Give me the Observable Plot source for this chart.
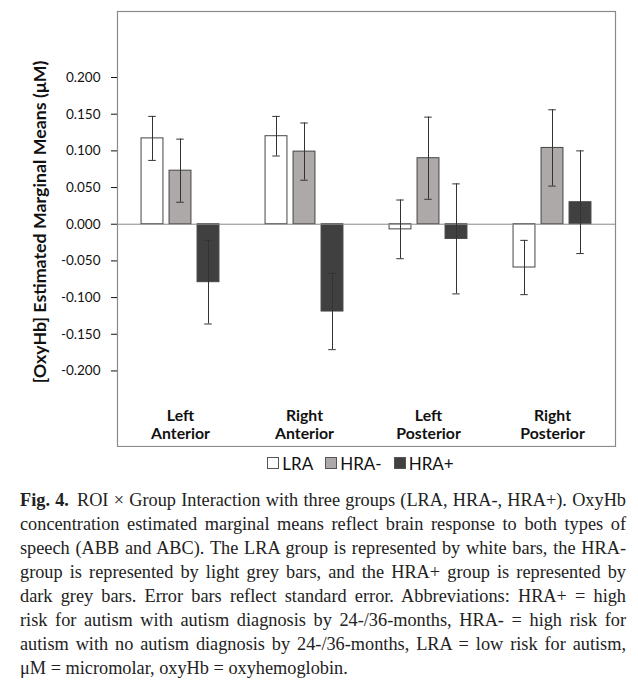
<!DOCTYPE html>
<html>
<head>
<meta charset="utf-8">
<script src="https://cdn.jsdelivr.net/npm/d3@7"></script>
<script src="https://cdn.jsdelivr.net/npm/@observablehq/plot@0.6"></script>
<style>
  html, body { margin: 0; padding: 0; background: #fff; }
  #wrap { width: 638px; position: relative; }
  #legend { font-family: Lato, "Open Sans", sans-serif; font-size: 17px; color: #111;
            display: flex; justify-content: center; gap: 12px; margin-top: 5px; height: 22px;
            padding-left: 83px; box-sizing: border-box; }
  #legend span.item { display: inline-flex; align-items: center; gap: 3px; }
  #legend span.sw { display: inline-block; width: 10px; height: 10px; border: 1px solid #555; }
  #caption { font-family: "Liberation Serif", "DejaVu Serif", serif; font-size: 18.3px; line-height: 24px;
             color: #222; width: 606px; margin: 14px 0 0 20px; }
  #caption div { text-align: justify; text-align-last: justify; white-space: nowrap; }
  #caption div.last { text-align-last: left; }
  #caption b { margin-right: 8px; }
</style>
</head>
<body>
<div id="wrap">
  <div id="chart"></div>
  <div id="legend"></div>
  <div id="caption">
    <div><b>Fig. 4.</b>ROI × Group Interaction with three groups (LRA, HRA-, HRA+). OxyHb</div>
    <div>concentration estimated marginal means reflect brain response to both types of</div>
    <div>speech (ABB and ABC). The LRA group is represented by white bars, the HRA-</div>
    <div>group is represented by light grey bars, and the HRA+ group is represented by</div>
    <div>dark grey bars. Error bars reflect standard error. Abbreviations: HRA+ = high</div>
    <div>risk for autism with autism diagnosis by 24-/36-months, HRA- = high risk for</div>
    <div>autism with no autism diagnosis by 24-/36-months, LRA = low risk for autism,</div>
    <div class="last">μM = micromolar, oxyHb = oxyhemoglobin.</div>
  </div>
</div>
<script>
const regions = ["Left\nAnterior", "Right\nAnterior", "Left\nPosterior", "Right\nPosterior"];
const groups = ["LRA", "HRA-", "HRA+"];
const groupColors = ["#ffffff", "#aea9a9", "#404040"];
// values per group, in region order
const lraMeans  = [0.117, 0.120, -0.007, -0.059];
const hraMMeans = [0.073, 0.099, 0.090, 0.104];
const hraPMeans = [-0.079, -0.119, -0.020, 0.030];
const lraSE  = [0.030, 0.027, 0.040, 0.037];
const hraMSE = [0.043, 0.039, 0.056, 0.052];
const hraPSE = [0.057, 0.052, 0.075, 0.070];
const yTicks = [-0.2, -0.15, -0.1, -0.05, 0, 0.05, 0.1, 0.15, 0.2];

const meansByGroup = [lraMeans, hraMMeans, hraPMeans];
const seByGroup = [lraSE, hraMSE, hraPSE];
const rows = [];
groups.forEach((g, gi) => regions.forEach((r, ri) => {
  const m = meansByGroup[gi][ri], se = seByGroup[gi][ri];
  rows.push({region: r, group: g, gi, value: m, lo: m - se, hi: m + se});
}));

const W = 638, marginLeft = 117, marginRight = 23;
const band = (W - marginLeft - marginRight) / regions.length;
const step = 28, barW = 22.4, capW = 8;
const yDomain = [-0.303, 0.29];
const fmt = v => d3.format(".3f")(v).replace("\u2212", "-");

const marks = [];
groups.forEach((g, gi) => {
  const off = (gi - 1) * step;
  const d = rows.filter(r => r.group === g);
  marks.push(Plot.barY(d, {
    x: "region", y: "value", fill: groupColors[gi], stroke: "#444", strokeWidth: 1,
    insetLeft: band / 2 - barW / 2 + off, insetRight: band / 2 - barW / 2 - off
  }));
});
marks.push(Plot.ruleY([0], {stroke: "#8a8a8a", strokeWidth: 1}));
groups.forEach((g, gi) => {
  const off = (gi - 1) * step;
  const d = rows.filter(r => r.group === g);
  marks.push(Plot.ruleX(d, {x: "region", y1: "lo", y2: "hi", dx: off, stroke: "#333", strokeWidth: 1}));
  marks.push(Plot.tickY(d, {x: "region", y: "lo", stroke: "#333", strokeWidth: 1,
    insetLeft: band / 2 - capW / 2 + off, insetRight: band / 2 - capW / 2 - off}));
  marks.push(Plot.tickY(d, {x: "region", y: "hi", stroke: "#333", strokeWidth: 1,
    insetLeft: band / 2 - capW / 2 + off, insetRight: band / 2 - capW / 2 - off}));
});
marks.push(Plot.text(regions, {x: d => d, text: d => d, frameAnchor: "bottom", lineAnchor: "bottom",
  dy: -8, fontWeight: "bold", fontSize: 15.8, lineHeight: 1.13, fill: "#111"}));
marks.push(Plot.frame({stroke: "#8a8a8a", strokeWidth: 1.2}));

const chart = Plot.plot({
  width: W, height: 447,
  marginLeft, marginRight, marginTop: 11, marginBottom: 1,
  style: {fontFamily: "Lato, 'Open Sans', sans-serif", fontSize: "13.5px", color: "#111", background: "#fff"},
  x: {domain: regions, padding: 0, axis: null},
  y: {domain: yDomain, ticks: yTicks, tickFormat: fmt, tickSize: 6, tickPadding: 11,
      label: null, grid: false},
  marks
});
document.getElementById("chart").appendChild(chart);

// y-axis title
const svg = d3.select(chart);
svg.append("text")
  .attr("transform", "translate(41,222) rotate(-90)")
  .attr("text-anchor", "middle").attr("dominant-baseline", "middle")
  .style("font-family", "Lato, 'Open Sans', sans-serif").style("font-weight", "bold")
  .style("font-size", "17.8px").attr("fill", "#111")
  .text("[OxyHb] Estimated Marginal Means (μM)");

const legend = document.getElementById("legend");
groups.forEach((g, i) => {
  const it = document.createElement("span"); it.className = "item";
  const sw = document.createElement("span"); sw.className = "sw"; sw.style.background = groupColors[i];
  const tx = document.createElement("span"); tx.textContent = g;
  it.appendChild(sw); it.appendChild(tx); legend.appendChild(it);
});
</script>
</body>
</html>
